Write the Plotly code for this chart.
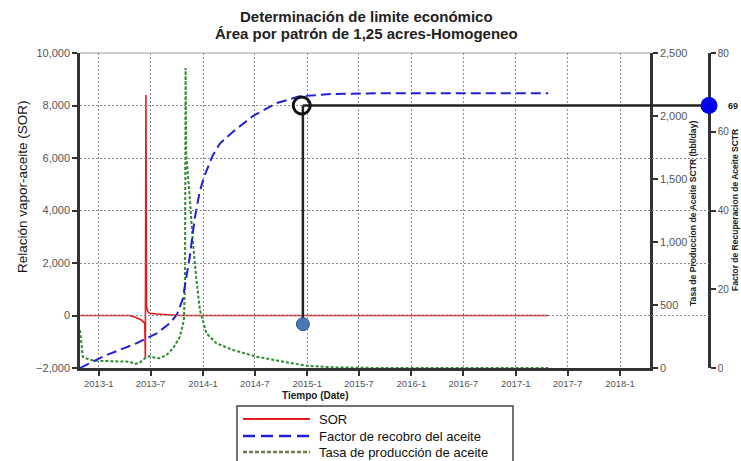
import plotly.graph_objects as go

# ---------------- data ----------------
sor_dates = ["2012-10-27", "2013-04-19", "2013-05-07", "2013-05-30", "2013-06-11",
             "2013-06-13", "2013-06-15", "2013-06-17", "2013-06-22", "2013-06-28",
             "2013-07-22", "2013-09-07", "2013-10-12", "2017-04-24"]
sor_values = [0, 0, -60, -170, -300, -1630, 8400, 335, 140, 84, 57, 20, 0, 0]

rf_dates = ["2012-10-27", "2013-01-15", "2013-05-14", "2013-07-23", "2013-09-07",
            "2013-10-01", "2013-10-22", "2013-11-05", "2013-11-16", "2013-12-03",
            "2013-12-21", "2014-01-07", "2014-02-04", "2014-03-01", "2014-04-16",
            "2014-06-25", "2014-09-17", "2014-12-06", "2015-03-31", "2015-09-12",
            "2017-04-24"]
rf_values = [0, 2.9, 6.3, 8.8, 11.4, 13.5, 17.5, 24, 28.5, 38, 45, 49, 54, 57, 60,
             64, 67.3, 69, 69.6, 69.8, 69.8]

rate_dates = ["2012-10-27", "2012-11-06", "2012-12-01", "2013-01-15", "2013-04-19",
              "2013-05-07", "2013-05-24", "2013-06-11", "2013-06-28", "2013-07-16",
              "2013-08-02", "2013-08-26", "2013-09-18", "2013-10-12", "2013-10-26",
              "2013-10-30", "2013-11-01", "2013-11-03", "2013-11-16", "2013-11-26",
              "2013-12-09", "2013-12-21", "2014-01-13", "2014-02-17", "2014-04-16",
              "2014-07-08", "2014-10-09", "2014-12-30", "2015-03-31", "2015-09-12",
              "2017-04-24"]
rate_values = [300, 89, 63, 56, 50, 32, 42, 77, 95, 82, 77, 103, 156, 248, 380,
               700, 2380, 1700, 1333, 1016, 698, 460, 275, 196, 143, 90, 50, 18, 5, 0, 0]

# economic limit marker
limit_date = "2014-12-17"
ring_date = "2014-12-13"
limit_sor = 8000
limit_low = -330
limit_axis_end = "2018-11-09"
limit_label = "69"

x_range = ["2012-10-27", "2018-04-16"]
x2_range = ["2012-10-27", "2018-11-09"]

FONT = "Liberation Sans, Arial, sans-serif"
TICKC = "#555555"
AXC = "#333333"

fig = go.Figure()

fig.add_trace(go.Scatter(x=sor_dates, y=sor_values, mode="lines", name="SOR",
                         line=dict(color="#e41a1c", width=1.6), yaxis="y", showlegend=False))
fig.add_trace(go.Scatter(x=rf_dates, y=rf_values, mode="lines", name="Factor de recobro del aceite",
                         line=dict(color="#2020d8", width=2, dash="10px,5px"), yaxis="y3",
                         showlegend=False))
fig.add_trace(go.Scatter(x=rate_dates, y=rate_values, mode="lines", name="Tasa de producción de aceite",
                         line=dict(color="#2e8b2e", width=2, dash="3px,2px"), yaxis="y2",
                         showlegend=False))

# marker lines (on an extended x axis that reaches the outer right axis)
fig.add_trace(go.Scatter(x=[limit_date, limit_date], y=[limit_sor, limit_low], mode="lines",
                         line=dict(color="#222222", width=2.5), xaxis="x2", yaxis="y",
                         showlegend=False, cliponaxis=False))
fig.add_trace(go.Scatter(x=[limit_date, limit_axis_end], y=[limit_sor, limit_sor], mode="lines",
                         line=dict(color="#222222", width=2.5), xaxis="x2", yaxis="y",
                         showlegend=False, cliponaxis=False))
fig.add_trace(go.Scatter(x=[ring_date], y=[limit_sor], mode="markers",
                         marker=dict(symbol="circle-open", size=17, color="#111111",
                                     line=dict(width=3, color="#111111")),
                         xaxis="x2", yaxis="y", showlegend=False, cliponaxis=False))
fig.add_trace(go.Scatter(x=[limit_date], y=[limit_low], mode="markers",
                         marker=dict(symbol="circle", size=13, color="#4a78b5",
                                     line=dict(width=1, color="#34598a")),
                         xaxis="x2", yaxis="y", showlegend=False, cliponaxis=False))
fig.add_trace(go.Scatter(x=[limit_axis_end], y=[limit_sor], mode="markers",
                         marker=dict(symbol="circle", size=17, color="#0000ee"),
                         xaxis="x2", yaxis="y", showlegend=False, cliponaxis=False))

W, H = 741, 461
L, T = 80, 53
R = W - 709
B = H - 368
pw = W - L - R
ph = H - T - B


def px(x):
    return (x - L) / pw


def py(y):
    return (H - B - y) / ph


xdom = px(650)

grid = dict(showgrid=True, gridcolor="#8a8a8a", gridwidth=1, griddash="2px,2px")
fig.update_layout(
    width=W, height=H, autosize=False,
    margin=dict(l=L, r=R, t=T, b=B, autoexpand=False),
    paper_bgcolor="white", plot_bgcolor="rgba(0,0,0,0)",
    font=dict(family=FONT, color=TICKC),
    showlegend=False,
    xaxis=dict(domain=[0, xdom], range=x_range, type="date", tick0="2013-01-01", dtick="M6",
               tickformat="%Y-%-m", ticks="outside", ticklen=5, tickcolor=AXC, tickwidth=1.5,
               showline=True, linecolor=AXC, linewidth=2.5, tickfont=dict(size=9.5, color=TICKC),
               anchor="y", **grid),
    xaxis2=dict(domain=[0, 1], range=x2_range, type="date", visible=False, anchor="y"),
    yaxis=dict(range=[-2000, 10000], dtick=2000, tickformat=",", ticks="outside", ticklen=5,
               tickcolor=AXC, tickwidth=1.5, showline=True, linecolor=AXC, linewidth=2.5,
               zeroline=False, tickfont=dict(size=11, color=TICKC), anchor="x", **grid),
    yaxis2=dict(range=[0, 2500], dtick=500, tickformat=",", side="right", overlaying="y",
                anchor="x", ticks="outside", ticklen=5, tickcolor=AXC, tickwidth=1.5,
                showline=True, linecolor=AXC, linewidth=2.5, showgrid=False, zeroline=False,
                tickfont=dict(size=11, color=TICKC)),
    yaxis3=dict(range=[0, 80], dtick=20, side="right", overlaying="y", anchor="free",
                position=1.0, ticks="outside", ticklen=5, tickcolor=AXC, tickwidth=1.5,
                showline=True, linecolor=AXC, linewidth=2.5, showgrid=False, zeroline=False,
                tickfont=dict(size=10, color=TICKC)),
)

ann = []
ann.append(dict(text="<b>Determinación de limite económico</b>", x=px(366), y=py(17),
                xref="paper", yref="paper", showarrow=False, xanchor="center", yanchor="middle",
                font=dict(size=15, color="#222222", family=FONT)))
ann.append(dict(text="<b>Área por patrón de 1,25 acres-Homogeneo</b>", x=px(366), y=py(33),
                xref="paper", yref="paper", showarrow=False, xanchor="center", yanchor="middle",
                font=dict(size=15, color="#222222", family=FONT)))
ann.append(dict(text="Relación vapor-aceite (SOR)", x=px(22), y=py(187), xref="paper", yref="paper",
                showarrow=False, textangle=-90, xanchor="center", yanchor="middle",
                font=dict(size=13.5, color="#111111", family=FONT)))
ann.append(dict(text="<b>Tasa de Produccion de Aceite SCTR (bbl/day)</b>", x=px(693), y=py(214),
                xref="paper", yref="paper", showarrow=False, textangle=-90,
                xanchor="center", yanchor="middle",
                font=dict(size=8.6, color="#222222", family=FONT)))
ann.append(dict(text="<b>Factor de Recuperacion de Aceite SCTR</b>", x=px(735), y=py(210),
                xref="paper", yref="paper", showarrow=False, textangle=-90,
                xanchor="center", yanchor="middle",
                font=dict(size=8.5, color="#222222", family=FONT)))
ann.append(dict(text="<b>Tiempo (Date)</b>", x=px(315), y=py(395), xref="paper", yref="paper",
                showarrow=False, xanchor="center", yanchor="middle",
                font=dict(size=10, color="#222222", family=FONT)))
ann.append(dict(text="<b>" + limit_label + "</b>", x=px(726), y=limit_sor, xref="paper", yref="y",
                showarrow=False, xanchor="left", yanchor="middle",
                font=dict(size=9, color="#222222", family=FONT)))

# custom legend
leg_items = [("SOR", "#e41a1c", "solid", 2), ("Factor de recobro del aceite", "#2020d8", "12px,6px", 2.5),
             ("Tasa de producción de aceite", "#6b7d4e", "4px,2px", 2.5)]
leg_y = [419, 436, 452]
shapes = []
shapes.append(dict(type="rect", xref="paper", yref="paper", x0=px(237), x1=px(513), y0=py(470),
                   y1=py(406), line=dict(color="#444444", width=1.5), fillcolor="white"))
for (lab, col, dsh, wd), yy in zip(leg_items, leg_y):
    shapes.append(dict(type="line", xref="paper", yref="paper", x0=px(243), x1=px(310),
                       y0=py(yy), y1=py(yy), line=dict(color=col, width=wd, dash=dsh)))
    ann.append(dict(text=lab, x=px(317), y=py(yy), xref="paper", yref="paper", showarrow=False,
                    xanchor="left", yanchor="middle", font=dict(size=13, color="#111111", family=FONT)))
# top frame line
shapes.append(dict(type="line", xref="paper", yref="paper", x0=0, x1=xdom, y0=1, y1=1,
                   line=dict(color="#999999", width=1)))

fig.update_layout(annotations=ann, shapes=shapes)
fig.write_html("out.html", config={"displayModeBar": False},
               post_script="document.body.style.margin='0px';document.body.style.overflow='hidden';")
